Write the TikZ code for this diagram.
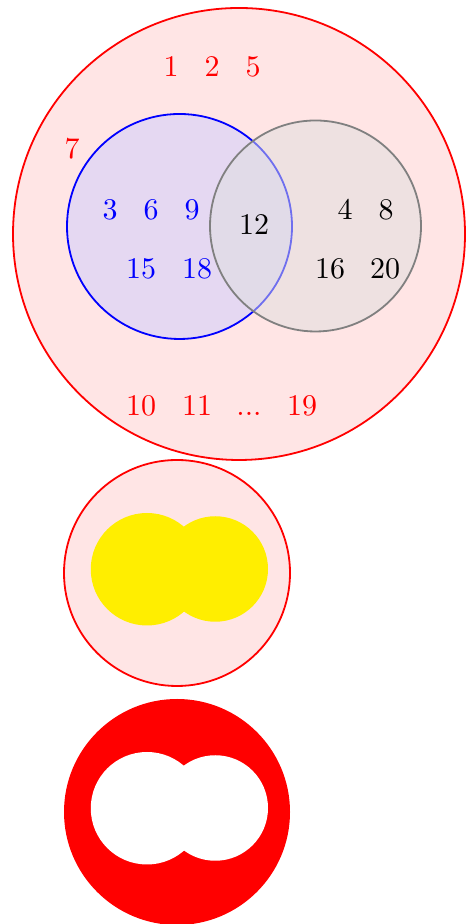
\documentclass[tikz,border=0pt]{standalone}
\definecolor{blobyellow}{RGB}{255,238,0}
\begin{document}
\begin{tikzpicture}[x=0.33333pt,y=0.33333pt,
  lbl/.style={inner sep=0pt,text height=6.5pt,text depth=0pt},
  redlbl/.style={lbl,text=red},
  bluelbl/.style={lbl,text=blue},
  blacklbl/.style={lbl,text=black}]
\useasboundingbox (0,0) rectangle (466,924);
% main Venn diagram
\fill[red!10] (239,690) circle (226);
\draw[red,semithick] (239,690) circle (226);
\fill[blue!20,opacity=0.5] (179.5,697.5) circle (112.5);
\draw[blue,semithick] (179.5,697.5) circle (112.5);
\fill[gray!25,opacity=0.5] (315.5,698) circle (105.5);
\draw[gray,semithick] (315.5,698) circle (105.5);
% labels
\node[redlbl] (n1) at (171,857) {1};
\node[redlbl] (n2) at (212,857) {2};
\node[redlbl] (n5) at (253,857) {5};
\node[redlbl] (n7) at (72,775) {7};
\node[bluelbl] (n3) at (110,714) {3};
\node[bluelbl] (n6) at (151,714) {6};
\node[bluelbl] (n9) at (192,714) {9};
\node[bluelbl] (n15) at (141,655) {15};
\node[bluelbl] (n18) at (197,655) {18};
\node[blacklbl] (n12) at (254,699) {12};
\node[blacklbl] (n4) at (345,714) {4};
\node[blacklbl] (n8) at (386,714) {8};
\node[blacklbl] (n16) at (330,655) {16};
\node[blacklbl] (n20) at (385,655) {20};
\node[redlbl] (n10) at (141,518) {10};
\node[redlbl] (n11) at (197,518) {11};
\node[redlbl] (ndots) at (249,518) {...};
\node[redlbl] (n19) at (302,518) {19};
% second picture
\fill[red!10] (177,351) circle (113);
\draw[red,semithick] (177,351) circle (113);
\fill[blobyellow] (147,354.75) circle (56.25);
\fill[blobyellow] (215.25,355) circle (52.75);
% third picture
\fill[red] (177,112) circle (113);
\fill[white] (147,115.75) circle (56.25);
\fill[white] (215.25,116) circle (52.75);
\end{tikzpicture}
\end{document}
